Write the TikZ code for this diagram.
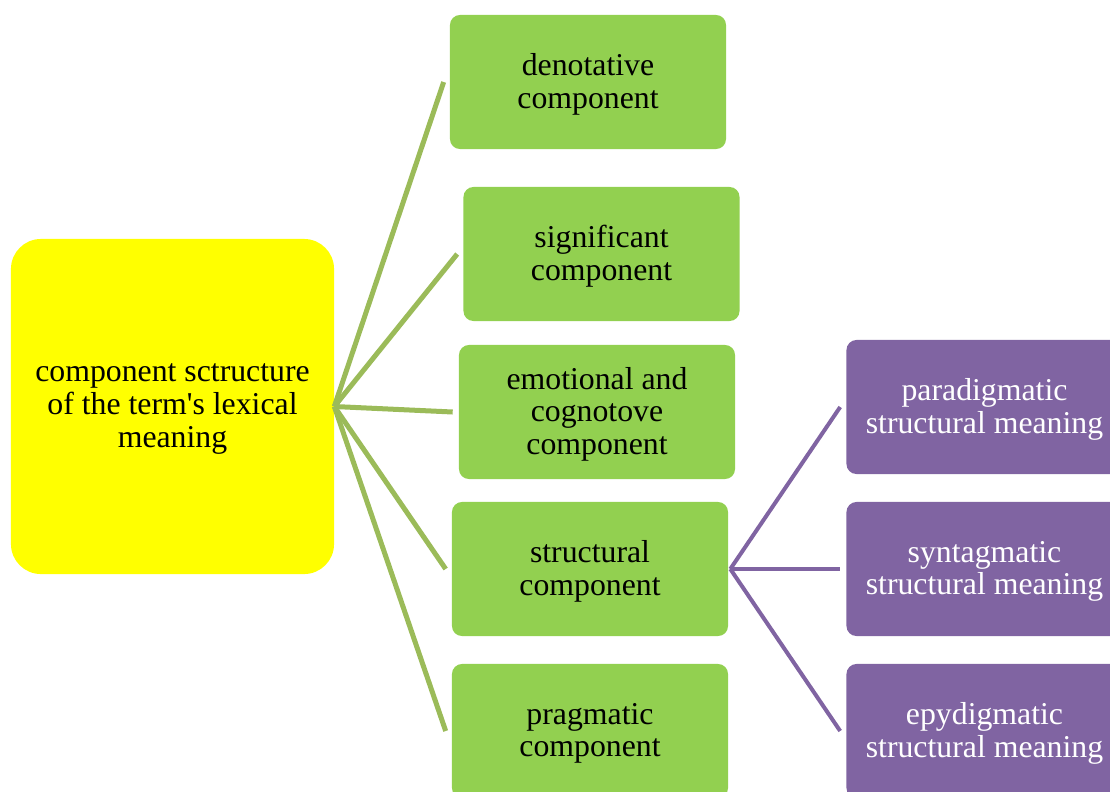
\documentclass[tikz,border=0pt]{standalone}
\usepackage{fontspec}
\setmainfont{Liberation Serif}
\usepackage{xcolor}
\definecolor{rootyellow}{HTML}{FFFF00}
\definecolor{leafgreen}{HTML}{92D050}
\definecolor{linkgreen}{HTML}{9BBB59}
\definecolor{plum}{HTML}{8064A2}

\begin{document}
\begin{tikzpicture}[x=0.025cm, y=-0.025cm,
  font=\fontsize{22.6}{23.4}\selectfont,
  box/.style={inner sep=0pt, align=center, text depth=1.5pt},
  rootbox/.style={box, fill=rootyellow, rounded corners=0.75cm, minimum width=8.075cm, minimum height=8.375cm},
  compbox/.style={box, fill=leafgreen, rounded corners=0.25cm, minimum width=6.9cm, minimum height=3.35cm},
  meanbox/.style={box, fill=plum, text=white, rounded corners=0.25cm, minimum width=6.9cm, minimum height=3.35cm},
  glink/.style={draw=linkgreen, line width=0.125cm},
  plink/.style={draw=plum, line width=0.1cm}]
\useasboundingbox (0,0) rectangle (1110,791);
\clip (0,0) rectangle (1110,791);
% root
\node[rootbox] (root) at (172.5,406.5) {component sctructure\\of the term\textquotesingle s lexical\\meaning};
% components
\node[compbox] (den) at (588,82) {denotative\\component};
\node[compbox] (sig) at (601.5,254) {significant\\component};
\node[compbox] (emo) at (597,412) {emotional and\\cognotove\\component};
\node[compbox] (str) at (590,569) {structural\\component};
\node[compbox] (pra) at (590,731) {pragmatic\\component};
% structural meanings
\node[meanbox] (par) at (984.5,407) {paradigmatic\\structural meaning};
\node[meanbox] (syn) at (984.5,569) {syntagmatic\\structural meaning};
\node[meanbox] (epy) at (984.5,731) {epydigmatic\\structural meaning};
% links from the root
\foreach \n in {den,sig,emo,str,pra}
  \draw[glink] (root.east) -- ([xshift=-0.15cm]\n.west);
% links from the structural component
\foreach \n in {par,syn,epy}
  \draw[plink] ([xshift=0.05cm]str.east) -- ([xshift=-0.15cm]\n.west);
\end{tikzpicture}
\end{document}
